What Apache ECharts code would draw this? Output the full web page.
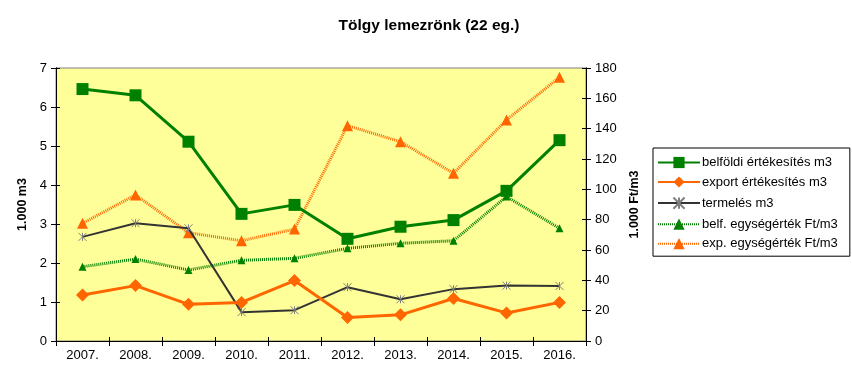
<!DOCTYPE html>
<html><head><meta charset="utf-8">
<script src="https://cdn.jsdelivr.net/npm/echarts@6/dist/echarts.min.js"></script>
<style>html,body{margin:0;padding:0;background:#fff}#c{width:852px;height:385px}</style>
</head><body><div id="c"></div>
<script>
const categories = ['2007.','2008.','2009.','2010.','2011.','2012.','2013.','2014.','2015.','2016.'];
const belfoldi = [6.46,6.30,5.11,3.26,3.49,2.62,2.93,3.10,3.85,5.15];
const exportErt = [1.18,1.42,0.94,0.99,1.55,0.60,0.67,1.09,0.72,0.99];
const termeles = [2.67,3.02,2.89,0.74,0.79,1.38,1.07,1.33,1.42,1.41];
const belfEgys = [49,54,46.8,53.2,54.5,61.1,64.4,66.1,95.2,74.3];
const expEgys = [77.6,96.3,71.4,66.1,73.8,142,131.4,110.6,145.7,173.9];
const leftTicks = {min:0,max:7,interval:1};
const rightTicks = {min:0,max:180,interval:20};

const FONT = '"Liberation Sans", Arial, sans-serif';
const chart = echarts.init(document.getElementById('c'), null, {renderer:'canvas'});
const star = 'path://M0,0L10,10M10,0L0,10M5,0L5,10';
const axBase = {
  axisLine:{show:true,lineStyle:{color:'#000',width:1}},
  splitLine:{show:false}
};
chart.setOption({
  animation:false,
  backgroundColor:'#fff',
  title:{text:'Tölgy lemezrönk (22 eg.)',left:424,textAlign:'center',top:13,
    textStyle:{fontFamily:FONT,fontSize:15.5,fontWeight:'bold',color:'#000'}},
  grid:{left:56,right:266,top:68,bottom:44,show:true,backgroundColor:'#FFFF99',borderColor:'#808080',borderWidth:1},
  legend:{orient:'vertical',left:653,top:148,padding:[8,12,6,4],itemGap:6.5,itemWidth:42,itemHeight:14,
    borderColor:'#000',borderWidth:1,backgroundColor:'#fff',
    textStyle:{fontFamily:FONT,fontSize:13,color:'#000',padding:[0,0,0,-3]},
    data:['belföldi értékesítés m3','export értékesítés m3','termelés m3','belf. egységérték Ft/m3','exp. egységérték Ft/m3']},
  xAxis:[
    Object.assign({},axBase,{type:'category',data:categories,boundaryGap:true,
      axisTick:{show:true,interval:0,length:5,lineStyle:{color:'#000'}},
      axisLabel:{interval:0,fontFamily:FONT,fontSize:13,color:'#000',margin:8}}),
    Object.assign({},axBase,{type:'category',data:categories,boundaryGap:true,position:'bottom',
      axisTick:{show:true,inside:true,interval:0,length:4,lineStyle:{color:'#000'}},axisLabel:{show:false}})
  ],
  yAxis:[
    Object.assign({},axBase,{type:'value',min:leftTicks.min,max:leftTicks.max,interval:leftTicks.interval,position:'left',
      name:'1.000 m3',nameLocation:'middle',nameGap:27,nameRotate:90,
      nameTextStyle:{fontFamily:FONT,fontSize:12.5,fontWeight:'bold',color:'#000'},
      axisTick:{show:true,length:5,lineStyle:{color:'#000'}},
      axisLabel:{fontFamily:FONT,fontSize:13,color:'#000',margin:9}}),
    Object.assign({},axBase,{type:'value',min:rightTicks.min,max:rightTicks.max,interval:rightTicks.interval,position:'right',
      name:'1.000 Ft/m3',nameLocation:'middle',nameGap:37,nameRotate:90,
      nameTextStyle:{fontFamily:FONT,fontSize:12.5,fontWeight:'bold',color:'#000'},
      axisTick:{show:true,length:5,lineStyle:{color:'#000'}},
      axisLabel:{fontFamily:FONT,fontSize:13,color:'#000',margin:9}}),
    Object.assign({},axBase,{type:'value',min:leftTicks.min,max:leftTicks.max,interval:leftTicks.interval,position:'left',
      axisTick:{show:true,inside:true,length:4,lineStyle:{color:'#000'}},axisLabel:{show:false}}),
    Object.assign({},axBase,{type:'value',min:rightTicks.min,max:rightTicks.max,interval:rightTicks.interval,position:'right',
      axisTick:{show:true,inside:true,length:4,lineStyle:{color:'#000'}},axisLabel:{show:false}})
  ],
  series:[
    {name:'belf. egységérték Ft/m3',type:'line',yAxisIndex:1,data:belfEgys,symbol:'triangle',symbolSize:[8,8],
      lineStyle:{color:'#008000',width:3,type:[1,1]},itemStyle:{color:'#008000'},z:2},
    {name:'exp. egységérték Ft/m3',type:'line',yAxisIndex:1,data:expEgys,symbol:'triangle',symbolSize:[11,11],
      lineStyle:{color:'#FF6600',width:3,type:[1,1]},itemStyle:{color:'#FF6600'},z:2},
    {name:'termelés m3',type:'line',yAxisIndex:0,data:termeles,symbol:star,symbolSize:8,
      lineStyle:{color:'#333333',width:2},itemStyle:{color:'none',borderColor:'#808080',borderWidth:1},z:3},
    {name:'export értékesítés m3',type:'line',yAxisIndex:0,data:exportErt,symbol:'diamond',symbolSize:[13,13],
      lineStyle:{color:'#FF6600',width:3},itemStyle:{color:'#FF6600'},z:4},
    {name:'belföldi értékesítés m3',type:'line',yAxisIndex:0,data:belfoldi,symbol:'rect',symbolSize:[12,12],
      lineStyle:{color:'#008000',width:3},itemStyle:{color:'#008000'},z:5}
  ]
});
</script></body></html>
